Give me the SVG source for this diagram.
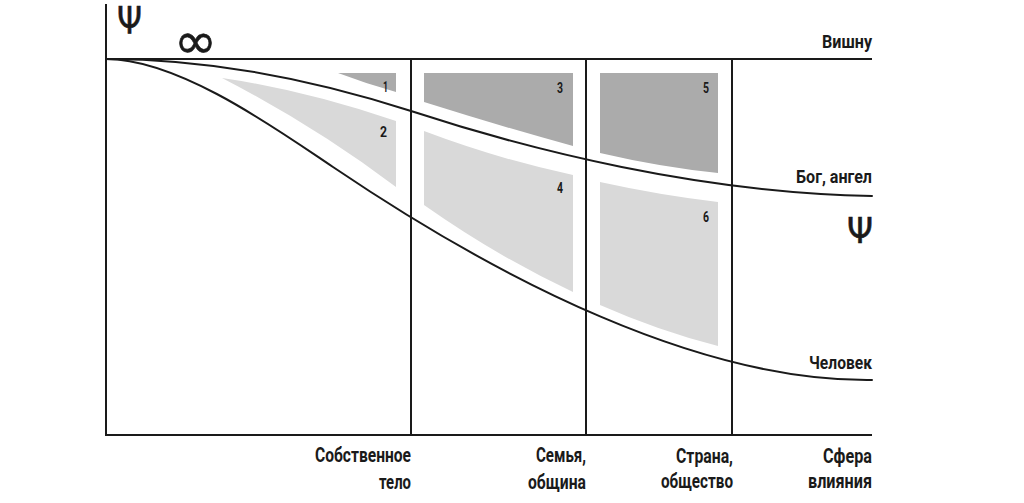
<svg xmlns="http://www.w3.org/2000/svg" width="1024" height="503" viewBox="0 0 1024 503">
<style>
.ln{fill:none;stroke:#1a1a1a;stroke-width:2}
.cv{fill:none;stroke:#1a1a1a;stroke-width:2;stroke-linecap:round}
.dk{fill:#ababab}
.lt{fill:#d9d9d9}
.t{font-family:Roboto,"Liberation Sans",sans-serif;font-weight:700;fill:#1a1a1a;text-anchor:end}
.lab{font-size:18.5px}
.ax{font-size:21px}
.num{font-size:15px}
.sym{font-family:"DejaVu Sans","Liberation Sans",sans-serif;font-weight:400;fill:#1a1a1a;stroke:#1a1a1a;stroke-width:0.6}
</style>
<rect width="1024" height="503" fill="#ffffff"/>
<g id="regions">
<path id="r1" class="dk" d="M338,73 L396,73 L396,92 Q367,84 338,73 Z"/>
<path id="r2" class="lt" d="M222,78 Q305,90 396,121 L396,187 Q315,126 222,78 Z"/>
<path id="r3" class="dk" d="M424,73 L573,73 L573,146 Q500,126 424,102 Z"/>
<path id="r4" class="lt" d="M424,131 Q498,159 573,175 L573,292 Q498,257 424,205 Z"/>
<path id="r5" class="dk" d="M600,73 L718,73 L718,173 Q660,167 600,153 Z"/>
<path id="r6" class="lt" d="M600,182 Q659,195 718,202 L718,346 Q659,331 600,305 Z"/>
</g>
<g id="frame">
<line class="ln" x1="106" y1="4" x2="106" y2="436"/>
<line class="ln" x1="106" y1="59" x2="872" y2="59"/>
<line class="ln" x1="105" y1="435" x2="872" y2="435"/>
<line class="ln" x1="411" y1="59" x2="411" y2="435"/>
<line class="ln" x1="586" y1="59" x2="586" y2="435"/>
<line class="ln" x1="732" y1="59" x2="732" y2="435"/>
</g>
<g id="connectors">
<path id="god-curve" class="cv" d="M106,59 C200,59 300,75 411,111 C530,150 700,193 872,196"/>
<path id="human-curve" class="cv" d="M106,59 C180,59 280,131.5 333,167 C500,280 700,382 872,380"/>
</g>
<g id="numbers">
<text class="t num" x="388" y="92" textLength="5" lengthAdjust="spacingAndGlyphs">1</text>
<text class="t num" x="387" y="137" textLength="7" lengthAdjust="spacingAndGlyphs">2</text>
<text class="t num" x="563" y="93" textLength="6" lengthAdjust="spacingAndGlyphs">3</text>
<text class="t num" x="563" y="193" textLength="6" lengthAdjust="spacingAndGlyphs">4</text>
<text class="t num" x="709" y="93" textLength="6" lengthAdjust="spacingAndGlyphs">5</text>
<text class="t num" x="709" y="222" textLength="6" lengthAdjust="spacingAndGlyphs">6</text>
</g>
<g id="symbols">
<text class="sym" x="117" y="33" font-size="38" textLength="25" lengthAdjust="spacingAndGlyphs">Ψ</text>
<text class="sym" x="873" y="243" font-size="36" text-anchor="end" textLength="26" lengthAdjust="spacingAndGlyphs">Ψ</text>
<text class="sym" x="174" y="58" font-size="50" textLength="43" lengthAdjust="spacingAndGlyphs">∞</text>
</g>
<g id="level-labels">
<text class="t lab" x="872" y="48" textLength="50" lengthAdjust="spacingAndGlyphs">Вишну</text>
<text class="t lab" x="872" y="183" textLength="76" lengthAdjust="spacingAndGlyphs">Бог, ангел</text>
<text class="t lab" x="872" y="369" textLength="63" lengthAdjust="spacingAndGlyphs">Человек</text>
</g>
<g id="axis-labels">
<text class="t ax" x="411" y="462" textLength="96" lengthAdjust="spacingAndGlyphs">Собственное</text>
<text class="t ax" x="411" y="489" textLength="32" lengthAdjust="spacingAndGlyphs">тело</text>
<text class="t ax" x="586" y="462" textLength="50" lengthAdjust="spacingAndGlyphs">Семья,</text>
<text class="t ax" x="586" y="489" textLength="58" lengthAdjust="spacingAndGlyphs">община</text>
<text class="t ax" x="733" y="463" textLength="57" lengthAdjust="spacingAndGlyphs">Страна,</text>
<text class="t ax" x="733" y="488" textLength="72" lengthAdjust="spacingAndGlyphs">общество</text>
<text class="t ax" x="872" y="463" textLength="49" lengthAdjust="spacingAndGlyphs">Сфера</text>
<text class="t ax" x="872" y="488" textLength="64" lengthAdjust="spacingAndGlyphs">влияния</text>
</g>
</svg>
